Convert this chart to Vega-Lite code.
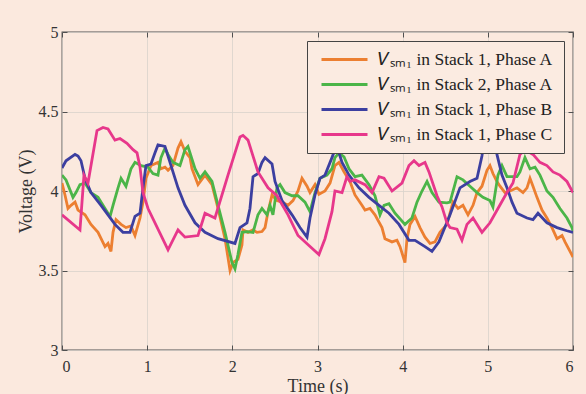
{
  "$schema": "https://vega.github.io/schema/vega-lite/v6.json",
  "width": 511,
  "height": 318,
  "autosize": {"type": "none"},
  "padding": {"left": 62, "top": 32, "right": 13, "bottom": 44},
  "background": "#fbe9de",
  "config": {
    "font": "Liberation Serif",
    "view": {"stroke": "#505050", "strokeWidth": 1.3, "fill": "#fbe9de"},
    "axis": {
      "domain": false,
      "grid": true,
      "gridColor": "#d9d2cc",
      "gridWidth": 0.8,
      "tickColor": "#505050",
      "tickSize": -5,
      "tickWidth": 1,
      "labelFont": "Liberation Serif",
      "labelFontSize": 16,
      "labelColor": "#333333",
      "titleFont": "Liberation Serif",
      "titleFontSize": 18,
      "titleFontWeight": "normal",
      "titleColor": "#333333"
    }
  },
  "data": {
    "values": [
      {"s":"1A","t":0,"v":4.05},{"s":"1A","t":0.035,"v":3.975},{"s":"1A","t":0.07,"v":3.89},{"s":"1A","t":0.106,"v":3.91},{"s":"1A","t":0.153,"v":3.93},{"s":"1A","t":0.188,"v":3.88},{"s":"1A","t":0.27,"v":3.85},{"s":"1A","t":0.34,"v":3.79},{"s":"1A","t":0.423,"v":3.74},{"s":"1A","t":0.505,"v":3.65},{"s":"1A","t":0.54,"v":3.67},{"s":"1A","t":0.575,"v":3.62},{"s":"1A","t":0.599,"v":3.74},{"s":"1A","t":0.634,"v":3.82},{"s":"1A","t":0.693,"v":3.79},{"s":"1A","t":0.751,"v":3.77},{"s":"1A","t":0.81,"v":3.78},{"s":"1A","t":0.857,"v":3.72},{"s":"1A","t":0.916,"v":3.83},{"s":"1A","t":0.951,"v":3.93},{"s":"1A","t":0.986,"v":4.08},{"s":"1A","t":1.045,"v":4.16},{"s":"1A","t":1.127,"v":4.18},{"s":"1A","t":1.162,"v":4.14},{"s":"1A","t":1.209,"v":4.15},{"s":"1A","t":1.245,"v":4.13},{"s":"1A","t":1.303,"v":4.16},{"s":"1A","t":1.362,"v":4.27},{"s":"1A","t":1.397,"v":4.31},{"s":"1A","t":1.444,"v":4.25},{"s":"1A","t":1.503,"v":4.21},{"s":"1A","t":1.526,"v":4.14},{"s":"1A","t":1.597,"v":4.04},{"s":"1A","t":1.679,"v":4.1},{"s":"1A","t":1.761,"v":4.04},{"s":"1A","t":1.832,"v":3.89},{"s":"1A","t":1.914,"v":3.7},{"s":"1A","t":1.973,"v":3.5},{"s":"1A","t":2.008,"v":3.55},{"s":"1A","t":2.066,"v":3.57},{"s":"1A","t":2.113,"v":3.66},{"s":"1A","t":2.125,"v":3.755},{"s":"1A","t":2.184,"v":3.74},{"s":"1A","t":2.243,"v":3.755},{"s":"1A","t":2.29,"v":3.74},{"s":"1A","t":2.348,"v":3.745},{"s":"1A","t":2.384,"v":3.77},{"s":"1A","t":2.419,"v":3.87},{"s":"1A","t":2.466,"v":3.975},{"s":"1A","t":2.524,"v":3.94},{"s":"1A","t":2.583,"v":3.93},{"s":"1A","t":2.654,"v":3.91},{"s":"1A","t":2.712,"v":3.94},{"s":"1A","t":2.771,"v":4.0},{"s":"1A","t":2.818,"v":4.08},{"s":"1A","t":2.877,"v":4.03},{"s":"1A","t":2.912,"v":3.99},{"s":"1A","t":2.971,"v":4.04},{"s":"1A","t":3.017,"v":3.98},{"s":"1A","t":3.088,"v":4.0},{"s":"1A","t":3.147,"v":4.05},{"s":"1A","t":3.205,"v":4.16},{"s":"1A","t":3.252,"v":4.18},{"s":"1A","t":3.311,"v":4.12},{"s":"1A","t":3.381,"v":4.06},{"s":"1A","t":3.44,"v":3.975},{"s":"1A","t":3.522,"v":3.91},{"s":"1A","t":3.558,"v":3.88},{"s":"1A","t":3.616,"v":3.89},{"s":"1A","t":3.675,"v":3.85},{"s":"1A","t":3.757,"v":3.77},{"s":"1A","t":3.792,"v":3.7},{"s":"1A","t":3.875,"v":3.68},{"s":"1A","t":3.933,"v":3.69},{"s":"1A","t":3.969,"v":3.65},{"s":"1A","t":4.027,"v":3.55},{"s":"1A","t":4.051,"v":3.7},{"s":"1A","t":4.086,"v":3.79},{"s":"1A","t":4.145,"v":3.84},{"s":"1A","t":4.203,"v":3.77},{"s":"1A","t":4.262,"v":3.71},{"s":"1A","t":4.321,"v":3.67},{"s":"1A","t":4.379,"v":3.68},{"s":"1A","t":4.438,"v":3.74},{"s":"1A","t":4.52,"v":3.79},{"s":"1A","t":4.591,"v":3.93},{"s":"1A","t":4.65,"v":3.89},{"s":"1A","t":4.708,"v":3.91},{"s":"1A","t":4.767,"v":3.85},{"s":"1A","t":4.826,"v":3.91},{"s":"1A","t":4.873,"v":3.99},{"s":"1A","t":4.931,"v":4.03},{"s":"1A","t":4.99,"v":4.13},{"s":"1A","t":5.025,"v":4.16},{"s":"1A","t":5.06,"v":4.11},{"s":"1A","t":5.107,"v":4.06},{"s":"1A","t":5.143,"v":4.03},{"s":"1A","t":5.201,"v":3.99},{"s":"1A","t":5.26,"v":4.0},{"s":"1A","t":5.342,"v":4.02},{"s":"1A","t":5.413,"v":3.99},{"s":"1A","t":5.46,"v":4.02},{"s":"1A","t":5.495,"v":4.08},{"s":"1A","t":5.53,"v":4.03},{"s":"1A","t":5.577,"v":3.96},{"s":"1A","t":5.636,"v":3.88},{"s":"1A","t":5.694,"v":3.83},{"s":"1A","t":5.753,"v":3.77},{"s":"1A","t":5.812,"v":3.7},{"s":"1A","t":5.871,"v":3.72},{"s":"1A","t":5.906,"v":3.68},{"s":"1A","t":5.965,"v":3.62},{"s":"1A","t":6.0,"v":3.585},
      {"s":"2A","t":0,"v":4.1},{"s":"2A","t":0.047,"v":4.07},{"s":"2A","t":0.129,"v":3.96},{"s":"2A","t":0.164,"v":3.99},{"s":"2A","t":0.211,"v":4.04},{"s":"2A","t":0.27,"v":4.05},{"s":"2A","t":0.34,"v":3.99},{"s":"2A","t":0.423,"v":3.96},{"s":"2A","t":0.505,"v":3.89},{"s":"2A","t":0.564,"v":3.84},{"s":"2A","t":0.599,"v":3.91},{"s":"2A","t":0.658,"v":4.02},{"s":"2A","t":0.693,"v":4.08},{"s":"2A","t":0.751,"v":4.03},{"s":"2A","t":0.81,"v":4.14},{"s":"2A","t":0.857,"v":4.18},{"s":"2A","t":0.928,"v":4.16},{"s":"2A","t":1.01,"v":4.15},{"s":"2A","t":1.068,"v":4.11},{"s":"2A","t":1.127,"v":4.1},{"s":"2A","t":1.162,"v":4.21},{"s":"2A","t":1.209,"v":4.27},{"s":"2A","t":1.245,"v":4.23},{"s":"2A","t":1.303,"v":4.18},{"s":"2A","t":1.385,"v":4.16},{"s":"2A","t":1.444,"v":4.26},{"s":"2A","t":1.479,"v":4.28},{"s":"2A","t":1.562,"v":4.14},{"s":"2A","t":1.62,"v":4.08},{"s":"2A","t":1.679,"v":4.12},{"s":"2A","t":1.761,"v":4.06},{"s":"2A","t":1.832,"v":3.91},{"s":"2A","t":1.914,"v":3.74},{"s":"2A","t":1.996,"v":3.55},{"s":"2A","t":2.031,"v":3.51},{"s":"2A","t":2.066,"v":3.6},{"s":"2A","t":2.113,"v":3.74},{"s":"2A","t":2.172,"v":3.745},{"s":"2A","t":2.243,"v":3.74},{"s":"2A","t":2.301,"v":3.85},{"s":"2A","t":2.348,"v":3.89},{"s":"2A","t":2.407,"v":3.85},{"s":"2A","t":2.442,"v":3.91},{"s":"2A","t":2.477,"v":3.85},{"s":"2A","t":2.524,"v":4.02},{"s":"2A","t":2.56,"v":4.04},{"s":"2A","t":2.618,"v":3.99},{"s":"2A","t":2.701,"v":3.97},{"s":"2A","t":2.771,"v":3.97},{"s":"2A","t":2.853,"v":3.93},{"s":"2A","t":2.912,"v":3.87},{"s":"2A","t":2.971,"v":3.99},{"s":"2A","t":3.029,"v":4.08},{"s":"2A","t":3.111,"v":4.1},{"s":"2A","t":3.17,"v":4.14},{"s":"2A","t":3.205,"v":4.21},{"s":"2A","t":3.252,"v":4.24},{"s":"2A","t":3.311,"v":4.215},{"s":"2A","t":3.37,"v":4.14},{"s":"2A","t":3.44,"v":4.09},{"s":"2A","t":3.522,"v":4.1},{"s":"2A","t":3.605,"v":4.04},{"s":"2A","t":3.675,"v":3.97},{"s":"2A","t":3.734,"v":3.85},{"s":"2A","t":3.781,"v":3.91},{"s":"2A","t":3.839,"v":3.92},{"s":"2A","t":3.91,"v":3.86},{"s":"2A","t":4.027,"v":3.79},{"s":"2A","t":4.109,"v":3.83},{"s":"2A","t":4.168,"v":3.93},{"s":"2A","t":4.227,"v":4.0},{"s":"2A","t":4.286,"v":4.06},{"s":"2A","t":4.344,"v":3.99},{"s":"2A","t":4.426,"v":3.93},{"s":"2A","t":4.52,"v":3.925},{"s":"2A","t":4.556,"v":3.93},{"s":"2A","t":4.638,"v":4.09},{"s":"2A","t":4.708,"v":4.07},{"s":"2A","t":4.79,"v":4.03},{"s":"2A","t":4.873,"v":3.99},{"s":"2A","t":4.943,"v":3.96},{"s":"2A","t":5.025,"v":3.94},{"s":"2A","t":5.06,"v":3.9},{"s":"2A","t":5.119,"v":4.1},{"s":"2A","t":5.166,"v":4.16},{"s":"2A","t":5.225,"v":4.09},{"s":"2A","t":5.342,"v":4.09},{"s":"2A","t":5.377,"v":4.12},{"s":"2A","t":5.436,"v":4.21},{"s":"2A","t":5.495,"v":4.14},{"s":"2A","t":5.554,"v":4.15},{"s":"2A","t":5.612,"v":4.1},{"s":"2A","t":5.694,"v":4.0},{"s":"2A","t":5.765,"v":3.96},{"s":"2A","t":5.847,"v":3.89},{"s":"2A","t":5.929,"v":3.83},{"s":"2A","t":5.988,"v":3.77},{"s":"2A","t":6.0,"v":3.75},
      {"s":"1B","t":0,"v":4.145},{"s":"1B","t":0.047,"v":4.19},{"s":"1B","t":0.153,"v":4.23},{"s":"1B","t":0.188,"v":4.22},{"s":"1B","t":0.223,"v":4.19},{"s":"1B","t":0.27,"v":4.08},{"s":"1B","t":0.34,"v":3.99},{"s":"1B","t":0.458,"v":3.91},{"s":"1B","t":0.54,"v":3.85},{"s":"1B","t":0.622,"v":3.79},{"s":"1B","t":0.716,"v":3.74},{"s":"1B","t":0.798,"v":3.74},{"s":"1B","t":0.857,"v":3.84},{"s":"1B","t":0.916,"v":3.86},{"s":"1B","t":0.951,"v":4.02},{"s":"1B","t":0.986,"v":4.16},{"s":"1B","t":1.045,"v":4.17},{"s":"1B","t":1.092,"v":4.24},{"s":"1B","t":1.127,"v":4.29},{"s":"1B","t":1.209,"v":4.28},{"s":"1B","t":1.28,"v":4.16},{"s":"1B","t":1.362,"v":4.02},{"s":"1B","t":1.444,"v":3.91},{"s":"1B","t":1.562,"v":3.8},{"s":"1B","t":1.679,"v":3.74},{"s":"1B","t":1.832,"v":3.7},{"s":"1B","t":2.031,"v":3.67},{"s":"1B","t":2.09,"v":3.77},{"s":"1B","t":2.172,"v":3.8},{"s":"1B","t":2.207,"v":3.89},{"s":"1B","t":2.243,"v":4.09},{"s":"1B","t":2.301,"v":4.11},{"s":"1B","t":2.348,"v":4.18},{"s":"1B","t":2.384,"v":4.21},{"s":"1B","t":2.466,"v":4.17},{"s":"1B","t":2.501,"v":4.06},{"s":"1B","t":2.583,"v":3.94},{"s":"1B","t":2.701,"v":3.85},{"s":"1B","t":2.794,"v":3.77},{"s":"1B","t":2.877,"v":3.71},{"s":"1B","t":2.912,"v":3.83},{"s":"1B","t":2.971,"v":3.975},{"s":"1B","t":3.029,"v":4.08},{"s":"1B","t":3.088,"v":4.1},{"s":"1B","t":3.17,"v":4.21},{"s":"1B","t":3.205,"v":4.26},{"s":"1B","t":3.252,"v":4.24},{"s":"1B","t":3.288,"v":4.18},{"s":"1B","t":3.37,"v":4.1},{"s":"1B","t":3.487,"v":4.02},{"s":"1B","t":3.605,"v":3.96},{"s":"1B","t":3.722,"v":3.91},{"s":"1B","t":3.839,"v":3.86},{"s":"1B","t":3.957,"v":3.79},{"s":"1B","t":4.074,"v":3.69},{"s":"1B","t":4.145,"v":3.69},{"s":"1B","t":4.262,"v":3.65},{"s":"1B","t":4.344,"v":3.62},{"s":"1B","t":4.426,"v":3.68},{"s":"1B","t":4.556,"v":3.85},{"s":"1B","t":4.673,"v":4.02},{"s":"1B","t":4.79,"v":4.06},{"s":"1B","t":4.873,"v":4.08},{"s":"1B","t":4.931,"v":4.22},{"s":"1B","t":4.967,"v":4.35},{"s":"1B","t":5.014,"v":4.42},{"s":"1B","t":5.084,"v":4.35},{"s":"1B","t":5.107,"v":4.23},{"s":"1B","t":5.166,"v":4.1},{"s":"1B","t":5.225,"v":4.02},{"s":"1B","t":5.284,"v":3.93},{"s":"1B","t":5.342,"v":3.86},{"s":"1B","t":5.46,"v":3.83},{"s":"1B","t":5.53,"v":3.82},{"s":"1B","t":5.589,"v":3.86},{"s":"1B","t":5.694,"v":3.8},{"s":"1B","t":5.812,"v":3.77},{"s":"1B","t":5.929,"v":3.75},{"s":"1B","t":6.0,"v":3.74},
      {"s":"1C","t":0,"v":3.85},{"s":"1C","t":0.211,"v":3.755},{"s":"1C","t":0.258,"v":4.1},{"s":"1C","t":0.305,"v":4.05},{"s":"1C","t":0.411,"v":4.38},{"s":"1C","t":0.481,"v":4.4},{"s":"1C","t":0.54,"v":4.39},{"s":"1C","t":0.622,"v":4.32},{"s":"1C","t":0.681,"v":4.33},{"s":"1C","t":0.763,"v":4.3},{"s":"1C","t":0.834,"v":4.26},{"s":"1C","t":0.881,"v":4.24},{"s":"1C","t":0.916,"v":4.15},{"s":"1C","t":0.951,"v":3.99},{"s":"1C","t":1.01,"v":3.89},{"s":"1C","t":1.245,"v":3.63},{"s":"1C","t":1.362,"v":3.755},{"s":"1C","t":1.444,"v":3.71},{"s":"1C","t":1.597,"v":3.72},{"s":"1C","t":1.679,"v":3.86},{"s":"1C","t":1.796,"v":3.83},{"s":"1C","t":1.949,"v":4.1},{"s":"1C","t":2.09,"v":4.34},{"s":"1C","t":2.125,"v":4.35},{"s":"1C","t":2.184,"v":4.32},{"s":"1C","t":2.301,"v":4.12},{"s":"1C","t":2.419,"v":4.02},{"s":"1C","t":2.524,"v":3.97},{"s":"1C","t":2.654,"v":3.85},{"s":"1C","t":2.771,"v":3.72},{"s":"1C","t":2.935,"v":3.64},{"s":"1C","t":3.017,"v":3.6},{"s":"1C","t":3.088,"v":3.7},{"s":"1C","t":3.17,"v":3.87},{"s":"1C","t":3.205,"v":4.0},{"s":"1C","t":3.288,"v":3.99},{"s":"1C","t":3.346,"v":4.09},{"s":"1C","t":3.381,"v":4.06},{"s":"1C","t":3.44,"v":4.07},{"s":"1C","t":3.558,"v":4.04},{"s":"1C","t":3.64,"v":3.99},{"s":"1C","t":3.722,"v":4.09},{"s":"1C","t":3.781,"v":4.08},{"s":"1C","t":3.875,"v":4.0},{"s":"1C","t":3.992,"v":4.05},{"s":"1C","t":4.074,"v":4.16},{"s":"1C","t":4.133,"v":4.19},{"s":"1C","t":4.192,"v":4.16},{"s":"1C","t":4.262,"v":4.18},{"s":"1C","t":4.309,"v":4.12},{"s":"1C","t":4.403,"v":3.97},{"s":"1C","t":4.462,"v":3.9},{"s":"1C","t":4.52,"v":3.8},{"s":"1C","t":4.556,"v":3.77},{"s":"1C","t":4.638,"v":3.76},{"s":"1C","t":4.696,"v":3.69},{"s":"1C","t":4.755,"v":3.79},{"s":"1C","t":4.826,"v":3.83},{"s":"1C","t":4.931,"v":3.74},{"s":"1C","t":5.025,"v":3.8},{"s":"1C","t":5.119,"v":3.89},{"s":"1C","t":5.225,"v":3.99},{"s":"1C","t":5.295,"v":4.05},{"s":"1C","t":5.377,"v":4.23},{"s":"1C","t":5.436,"v":4.26},{"s":"1C","t":5.53,"v":4.23},{"s":"1C","t":5.612,"v":4.18},{"s":"1C","t":5.694,"v":4.16},{"s":"1C","t":5.765,"v":4.12},{"s":"1C","t":5.847,"v":4.1},{"s":"1C","t":5.929,"v":4.06},{"s":"1C","t":6.0,"v":3.99}
    ]
  },
  "layer": [
    {
      "mark": {"type": "line", "strokeWidth": 2.8, "clip": true},
      "encoding": {
        "x": {"field": "t", "type": "quantitative", "scale": {"domain": [0, 6], "nice": false}, "axis": {"title": "Time (s)", "values": [0, 1, 2, 3, 4, 5, 6], "labelPadding": 13, "titlePadding": 3}},
        "y": {"field": "v", "type": "quantitative", "scale": {"domain": [3, 5], "nice": false, "zero": false}, "axis": {"title": "Voltage (V)", "values": [3, 3.5, 4, 4.5, 5], "format": "~g", "labelPadding": 9, "titlePadding": 3}},
        "color": {
          "field": "s", "type": "nominal",
          "scale": {"domain": ["1A", "2A", "1B", "1C"], "range": ["#ec7f31", "#4bb548", "#3c3fa0", "#e7378b"]},
          "legend": {
            "orient": "top-right", "offset": 9, "title": null,
            "fillColor": "#fbebe1", "strokeColor": "#444444", "padding": 10,
            "symbolType": "stroke", "symbolSize": 2116, "symbolStrokeWidth": 3, "symbolOffset": 3,
            "clipHeight": 17,
            "labelFont": "Liberation Serif", "labelFontSize": 17.5, "labelColor": "#222222", "labelOffset": 9, "rowPadding": 7, "labelLimit": 400,
            "labelExpr": "datum.value == '1A' ? '𝑉ₛₘ₁ in Stack 1, Phase A\u00a0\u00a0\u00a0\u00a0' : datum.value == '2A' ? '𝑉ₛₘ₁ in Stack 2, Phase A\u00a0\u00a0\u00a0\u00a0' : datum.value == '1B' ? '𝑉ₛₘ₁ in Stack 1, Phase B\u00a0\u00a0\u00a0\u00a0' : '𝑉ₛₘ₁ in Stack 1, Phase C\u00a0\u00a0\u00a0\u00a0'"
          }
        }
      }
    },
    {
      "mark": {"type": "line", "strokeOpacity": 0},
      "encoding": {
        "x": {"field": "t", "type": "quantitative", "axis": {"orient": "top", "title": null, "labels": false, "grid": false, "values": [0, 1, 2, 3, 4, 5, 6]}},
        "y": {"field": "v", "type": "quantitative", "axis": {"orient": "right", "title": null, "labels": false, "grid": false, "values": [3, 3.5, 4, 4.5, 5]}},
        "detail": {"field": "s"}
      }
    }
  ],
  "resolve": {"axis": {"x": "independent", "y": "independent"}}
}
